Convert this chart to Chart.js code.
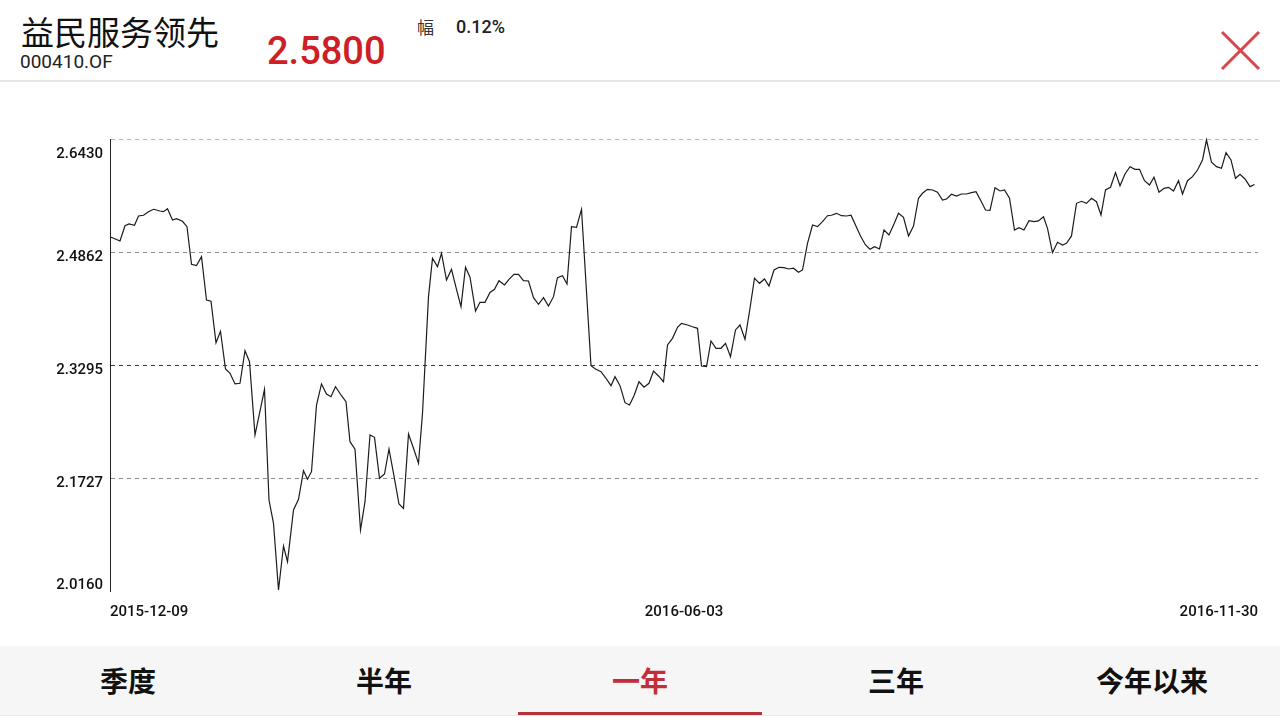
<!DOCTYPE html>
<html>
<head>
<meta charset="utf-8">
<title>益民服务领先</title>
<script src="https://cdn.jsdelivr.net/npm/chart.js@4.4.0/dist/chart.umd.min.js"></script>
<style>
  html, body { margin: 0; padding: 0; width: 1280px; height: 720px; background: #fff; overflow: hidden;
    font-family: "Noto Sans CJK SC", Roboto, sans-serif; }
  .title { position: absolute; left: 21px; top: 11px; font-size: 33px; line-height: 40px; color: #111; }
  .code { position: absolute; left: 20px; top: 51px; font-family: Roboto, sans-serif;
    font-size: 19px; line-height: 22px; color: #222; }
  .price { position: absolute; left: 267px; top: 29px; font-family: Roboto, sans-serif; font-weight: 500;
    font-size: 38px; line-height: 44px; color: #cc2026; }
  .chg-label { position: absolute; left: 417px; top: 14px; font-size: 17px; line-height: 26px; color: #333; }
  .chg { position: absolute; left: 456px; top: 14px; font-family: Roboto, sans-serif; font-weight: 500;
    font-size: 18px; line-height: 26px; color: #222; }
  .close { position: absolute; left: 1218px; top: 28px; }
  .sep { position: absolute; left: 0; top: 80px; width: 1280px; height: 2px; background: #e6e6e6; }
  #wrap { position: absolute; left: 0; top: 100px; width: 1280px; height: 540px; }
  .tabs { position: absolute; left: 0; top: 646px; width: 1280px; height: 69px; background: #f6f6f6;
    display: flex; border-bottom: 1px solid #ebebeb; }
  .tab { flex: 1; position: relative; text-align: center; font-size: 28px; font-weight: 700;
    line-height: 69px; color: #111; }
  .tab.on { color: #c32d38; }
  .tab.on::after { content: ""; position: absolute; left: 6px; right: 6px; bottom: 0; height: 3px; background: #b8323c; }
</style>
</head>
<body>
<div class="title">益民服务领先</div>
<div class="code">000410.OF</div>
<div class="price">2.5800</div>
<div class="chg-label">幅</div>
<div class="chg">0.12%</div>
<svg class="close" width="44" height="44" viewBox="0 0 44 44">
  <line x1="4" y1="4" x2="41" y2="41" stroke="#d9454c" stroke-width="3"/>
  <line x1="41" y1="4" x2="4" y2="41" stroke="#d9454c" stroke-width="3"/>
</svg>
<div class="sep"></div>
<div id="wrap"><canvas id="navChart" width="1280" height="540"></canvas></div>
<div class="tabs">
  <div class="tab">季度</div>
  <div class="tab">半年</div>
  <div class="tab on">一年</div>
  <div class="tab">三年</div>
  <div class="tab">今年以来</div>
</div>
<script>
// ==============================
// Data
// ==============================
const tradeDay = [
  0, 2.0, 3.0, 3.8, 4.9, 5.7, 6.7, 7.7, 8.7, 10.0, 10.7, 11.5, 12.5, 13.3, 14.5, 15.4, 16.3, 17.3, 18.3, 19.3,
  20.2, 21.2, 22.1, 23.1, 24.0, 25.0, 26.0, 27.0, 27.9, 29.0, 30.9, 31.8, 32.7, 33.7, 34.7, 35.5, 36.7, 37.7, 38.7,
  39.5, 40.3, 41.3, 42.3, 43.3, 44.2, 45.1, 46.3, 47.2, 48.0, 49.0, 50.1, 51.0, 52.0, 52.9, 53.9, 54.9, 55.8, 56.7, 57.8,
  58.7, 59.7, 60.7, 61.7, 62.5, 63.7, 64.5, 65.5, 66.3, 67.3, 68.3, 69.3, 70.2, 71.1, 72.0, 73.1, 74.0, 75.0, 76.0, 76.9,
  77.8, 78.9, 79.8, 80.8, 81.7, 82.7, 83.7, 84.7, 85.7, 86.7, 87.7, 88.7, 89.5, 90.5, 91.4, 92.3, 93.3, 94.3, 96.2, 97.1,
  98.2, 99.2, 100.2, 101.0, 102.0, 103.0, 103.9, 104.8, 105.8, 106.8, 107.8, 108.7, 109.7, 110.7, 111.5, 112.5, 113.5, 114.3,
  115.5, 116.5, 117.5, 118.3, 119.3, 120.2, 121.2, 122.2, 123.1, 124.1, 125.1, 126.0, 127.0, 128.0, 128.9, 129.9, 130.9, 131.8, 132.8, 133.8,
  134.8, 135.7, 136.7, 137.7, 138.5, 139.5, 140.5, 141.5, 142.5, 143.5, 144.3, 145.3, 146.3, 147.3, 148.2, 149.3, 150.1, 151.1, 152.0, 152.9,
  153.9, 154.8, 155.8, 156.8, 157.7, 158.7, 159.7, 160.7, 161.7, 162.5, 163.5, 164.5, 165.5, 166.5, 167.3, 168.3, 169.3, 170.3, 171.3, 172.3,
  173.2, 174.2, 175.1, 176.0, 177.0, 178.0, 178.9, 179.9, 180.9, 181.8, 182.8, 183.8, 184.8, 185.7, 186.7, 187.5, 188.5, 189.5, 190.5,
  191.3, 192.3, 193.3, 194.3, 195.3, 196.3, 197.3, 198.2, 199.1, 200.1, 201.1, 202.0, 203.0, 204.0, 205.0, 205.9, 206.9, 207.9, 208.8, 209.8,
  210.8, 211.7, 212.7, 213.7, 214.5, 215.5, 216.5, 217.5, 218.5, 219.3, 220.3, 221.3, 222.3, 223.2, 224.2, 225.1, 226.0, 227.0, 228.0, 228.9
];

const nav = [
  2.5075, 2.5015, 2.5227, 2.5251, 2.5233, 2.5362, 2.5372, 2.5422, 2.5455, 2.5431, 2.5422, 2.5463, 2.5307, 2.5325, 2.5289, 2.5214, 2.4692, 2.4673, 2.4797, 2.4197,
  2.4179, 2.3604, 2.3763, 2.3240, 2.3180, 2.3032, 2.3041, 2.3493, 2.3341, 2.2324, 2.2958, 2.1422, 2.1099, 2.0174, 2.0784, 2.0567, 2.1284, 2.1432, 2.1829,
  2.1710, 2.1815, 2.2740, 2.3032, 2.2893, 2.2855, 2.2994, 2.2869, 2.2786, 2.2231, 2.2126, 2.1006, 2.1399, 2.2324, 2.2292, 2.1723, 2.1783, 2.2130, 2.1793, 2.1367,
  2.1307, 2.2338, 2.2140, 2.1931, 2.2625, 2.4243, 2.4775, 2.4659, 2.4845, 2.4474, 2.4623, 2.4345, 2.4104, 2.4650, 2.4512, 2.4044, 2.4165, 2.4165, 2.4301, 2.4345,
  2.4465, 2.4405, 2.4484, 2.4553, 2.4553, 2.4465, 2.4460, 2.4229, 2.4137, 2.4229, 2.4114, 2.4243, 2.4506, 2.4534, 2.4419, 2.5214, 2.5205, 2.5455, 2.3285, 2.3240,
  2.3202, 2.3111, 2.3008, 2.3133, 2.3008, 2.2772, 2.2740, 2.2869, 2.3063, 2.2986, 2.3041, 2.3212, 2.3143, 2.3063, 2.3573, 2.3665, 2.3818, 2.3873,
  2.3850, 2.3826, 2.3804, 2.3281, 2.3272, 2.3628, 2.3527, 2.3527, 2.3596, 2.3410, 2.3781, 2.3850, 2.3652, 2.4082, 2.4498, 2.4428, 2.4488, 2.4391, 2.4613, 2.4650,
  2.4645, 2.4627, 2.4637, 2.4581, 2.4613, 2.4983, 2.5237, 2.5214, 2.5283, 2.5366, 2.5372, 2.5399, 2.5366, 2.5362, 2.5372, 2.5205, 2.5085, 2.4960, 2.4902, 2.4936,
  2.4904, 2.5168, 2.5098, 2.5251, 2.5399, 2.5344, 2.5085, 2.5223, 2.5608, 2.5677, 2.5732, 2.5723, 2.5691, 2.5584, 2.5598, 2.5663, 2.5639, 2.5667, 2.5667, 2.5685,
  2.5699, 2.5570, 2.5445, 2.5441, 2.5755, 2.5709, 2.5723, 2.5608, 2.5168, 2.5200, 2.5168, 2.5297, 2.5283, 2.5293, 2.5352, 2.5191, 2.4853, 2.4997, 2.4960,
  2.4983, 2.5085, 2.5538, 2.5566, 2.5538, 2.5608, 2.5560, 2.5376, 2.5723, 2.5760, 2.5963, 2.5782, 2.5945, 2.6046, 2.6010, 2.6010, 2.5852, 2.5792, 2.5899, 2.5691,
  2.5746, 2.5760, 2.5709, 2.5852, 2.5667, 2.5852, 2.5907, 2.6000, 2.6139, 2.6416, 2.6107, 2.6046, 2.6024, 2.6240, 2.6139, 2.5885, 2.5940, 2.5875, 2.5769, 2.5800
];

const yTicks = [2.0160, 2.1727, 2.3295, 2.4862, 2.6430];
const dateLabels = ["2015-12-09", "2016-06-03", "2016-11-30"];
const dayMax = 229.6;

// grid line shade per tick, bottom one is hidden (the axis sits there)
const gridShades = ["rgba(0,0,0,0)", "#8c8c8c", "#3c3c3c", "#8c8c8c", "#b8b8b8"];

// ==============================
// Axis labels drawn from the scales
// ==============================
const axisLabels = {
  id: "axisLabels",
  afterDraw(chart) {
    const { ctx, chartArea, scales } = chart;
    const x = scales.x;
    const y = scales.y;
    ctx.save();
    ctx.fillStyle = "#111";
    ctx.font = "500 15px Roboto";
    ctx.textBaseline = "middle";
    ctx.textAlign = "right";
    yTicks.forEach((v, i) => {
      let dy = 5;
      if (i === 0) dy = -6;
      if (i === yTicks.length - 1) dy = 15;
      ctx.fillText(v.toFixed(4), chartArea.left - 7, y.getPixelForValue(v) + dy);
    });

    const ly = chartArea.bottom + 21;
    ctx.textAlign = "left";
    ctx.fillText(dateLabels[0], x.getPixelForValue(0), ly);
    ctx.textAlign = "center";
    ctx.fillText(dateLabels[1], x.getPixelForValue(dayMax / 2), ly);
    ctx.textAlign = "right";
    ctx.fillText(dateLabels[2], x.getPixelForValue(dayMax), ly);
    ctx.restore();
  }
};

const points = tradeDay.map((d, i) => ({ x: d, y: nav[i] }));

const ctx = document.getElementById("navChart").getContext("2d");
new Chart(ctx, {
  type: "line",
  data: {
    datasets: [{
      data: points,
      borderColor: "#1c1c1c",
      borderWidth: 1.2,
      pointRadius: 0,
      tension: 0,
      fill: false,
      clip: false
    }]
  },
  options: {
    responsive: false,
    animation: false,
    devicePixelRatio: 1,
    events: [],
    layout: { padding: { left: 110, right: 22, top: 39, bottom: 49 } },
    plugins: { legend: { display: false }, tooltip: { enabled: false } },
    scales: {
      x: {
        type: "linear",
        display: false,
        min: 0,
        max: dayMax
      },
      y: {
        min: yTicks[0],
        max: yTicks[yTicks.length - 1],
        afterBuildTicks: (scale) => { scale.ticks = yTicks.map((v) => ({ value: v })); },
        afterFit: (scale) => { scale.width = 0; },
        ticks: { display: false },
        grid: {
          drawTicks: false,
          lineWidth: 1,
          color: (c) => gridShades[c.index] || "#8c8c8c"
        },
        border: { display: true, color: "#222", width: 1, dash: [4, 4] }
      }
    }
  },
  plugins: [axisLabels]
});
</script>
</body>
</html>
